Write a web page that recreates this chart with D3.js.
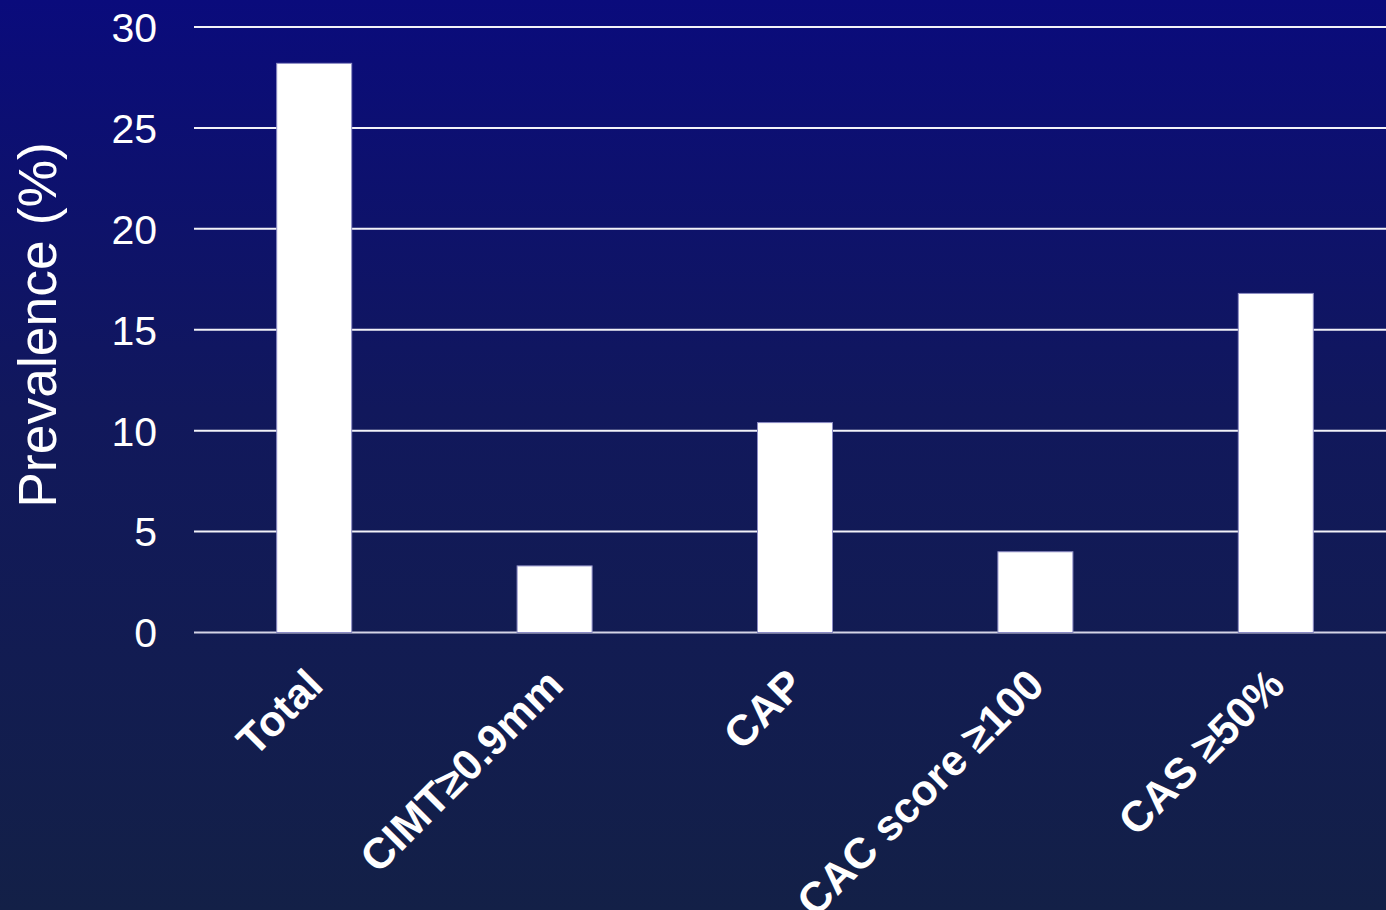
<!DOCTYPE html>
<html>
<head>
<meta charset="utf-8">
<script src="https://cdn.jsdelivr.net/npm/d3@7"></script>
<style>
  html, body { margin: 0; padding: 0; background: #11185a; }
  svg { display: block; }
</style>
</head>
<body>
<svg id="chart" width="1386" height="910"></svg>
<script>
const categories = ["Total", "CIMT\u22650.9mm", "CAP", "CAC score \u2265100", "CAS \u226550%"];
const prevalence = [28.2, 3.3, 10.4, 4.0, 16.8];
const yTicks = [0, 5, 10, 15, 20, 25, 30];
const yTitle = "Prevalence (%)";

const W = 1386, H = 910;
const svg = d3.select("#chart");

const defs = svg.append("defs");
const grad = defs.append("linearGradient").attr("id", "bg").attr("x1", 0).attr("y1", 0).attr("x2", 0).attr("y2", 1);
grad.append("stop").attr("offset", "0%").attr("stop-color", "#0a0b7c");
grad.append("stop").attr("offset", "45%").attr("stop-color", "#11185c");
grad.append("stop").attr("offset", "100%").attr("stop-color", "#132047");
svg.append("rect").attr("width", W).attr("height", H).attr("fill", "url(#bg)");

const x = d3.scaleBand().domain(categories).range([194, 1396]).paddingInner(0.688).paddingOuter(0.344);
const y = d3.scaleLinear().domain([0, 30]).range([632.5, 27]);

// gridlines
svg.append("g").selectAll("line").data(yTicks).join("line")
  .attr("x1", 194).attr("x2", W)
  .attr("y1", d => y(d)).attr("y2", d => y(d))
  .attr("stroke", d => d === 0 ? "#d4d4e6" : "#f2f2f8")
  .attr("stroke-width", 2);

// y axis tick labels
const yAxis = d3.axisLeft(y).tickValues(yTicks).tickSize(0).tickPadding(0);
const ya = svg.append("g").attr("transform", "translate(157,0)").call(yAxis);
ya.select(".domain").remove();
ya.selectAll("text")
  .attr("fill", "#ffffff")
  .attr("font-family", "'Liberation Sans', Arial, sans-serif")
  .attr("font-size", 41)
  .attr("dy", "0.35em");

// bars
svg.append("g").selectAll("rect").data(prevalence).join("rect")
  .attr("x", (d, i) => x(categories[i]))
  .attr("width", x.bandwidth())
  .attr("y", d => y(d))
  .attr("height", d => y(0) - y(d))
  .attr("fill", "#ffffff")
  .attr("stroke", "#8c8cc4")
  .attr("stroke-width", 1);

// x labels
const xAxis = d3.axisBottom(x).tickSize(0).tickPadding(0);
const xa = svg.append("g").attr("transform", `translate(0,${y(0)})`).call(xAxis);
xa.select(".domain").remove();
xa.selectAll("text")
  .attr("fill", "#ffffff")
  .attr("font-family", "'Liberation Sans', Arial, sans-serif")
  .attr("font-weight", "bold")
  .attr("font-size", 43)
  .attr("text-anchor", "end")
  .attr("dy", 0)
  .attr("y", 0)
  .attr("transform", "translate(11,55) rotate(-45)");

// y title
svg.append("text")
  .attr("transform", "translate(56,325) rotate(-90)")
  .attr("text-anchor", "middle")
  .attr("fill", "#ffffff")
  .attr("font-family", "'Liberation Sans', Arial, sans-serif")
  .attr("font-size", 53.5)
  .text(yTitle);
</script>
</body>
</html>
